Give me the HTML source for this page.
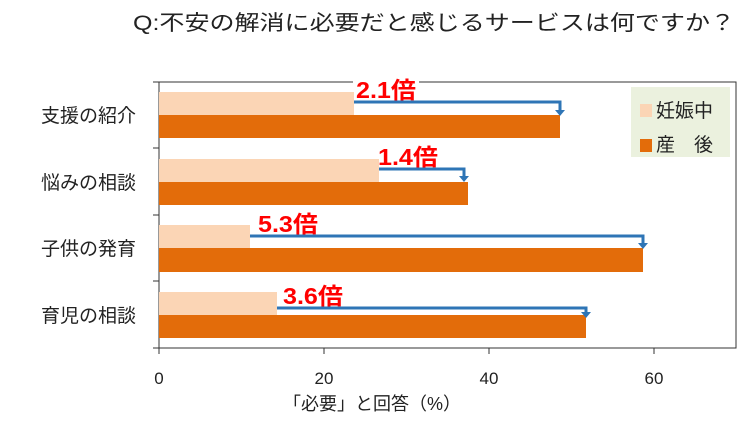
<!DOCTYPE html>
<html><head><meta charset="utf-8"><style>
body{margin:0;background:#fff}
svg text{font-family:"Liberation Sans","Noto Sans CJK JP",sans-serif}
</style></head><body>
<svg width="754" height="420" xmlns="http://www.w3.org/2000/svg">
<text x="133" y="30" font-size="21" fill="#222" textLength="602" lengthAdjust="spacingAndGlyphs">Q:不安の解消に必要だと感じるサービスは何ですか？</text>
<rect x="159" y="82" width="577" height="266" fill="none" stroke="#333" stroke-width="1"/>
<g stroke="#333" stroke-width="1">
<line x1="153" y1="82" x2="159" y2="82"/><line x1="153" y1="148" x2="159" y2="148"/><line x1="153" y1="215" x2="159" y2="215"/><line x1="153" y1="281" x2="159" y2="281"/><line x1="153" y1="348" x2="159" y2="348"/>
<line x1="159" y1="348" x2="159" y2="354"/><line x1="324" y1="348" x2="324" y2="354"/><line x1="489" y1="348" x2="489" y2="354"/><line x1="654" y1="348" x2="654" y2="354"/>
</g>
<rect x="353" y="78" width="66" height="12" fill="#fff"/>
<g fill="#fbd5b5">
<rect x="159" y="92" width="195" height="23"/><rect x="159" y="159" width="220" height="23"/><rect x="159" y="225" width="91" height="23"/><rect x="159" y="292" width="118" height="23"/>
</g>
<g fill="#e36c0a">
<rect x="159" y="115" width="401" height="23"/><rect x="159" y="182" width="309" height="23"/><rect x="159" y="248" width="484" height="24"/><rect x="159" y="315" width="427" height="23"/>
</g>
<g stroke="#2e75b6" stroke-width="3" fill="none">
<polyline points="354,102 560,102 560,111"/><polyline points="379,169 464,169 464,177"/><polyline points="250,236 643,236 643,244"/><polyline points="277,308 586,308 586,313"/>
</g>
<g fill="#2e75b6">
<polygon points="555,110 565,110 560,116"/><polygon points="459,176 469,176 464,182"/><polygon points="638,243 648,243 643,249"/><polygon points="581,312 591,312 586,318"/>
</g>
<g fill="#ff0000" font-weight="bold" font-size="23">
<text x="356" y="98" textLength="60" lengthAdjust="spacingAndGlyphs">2.1倍</text>
<text x="378" y="165" textLength="60" lengthAdjust="spacingAndGlyphs">1.4倍</text>
<text x="258" y="232" textLength="60" lengthAdjust="spacingAndGlyphs">5.3倍</text>
<text x="283" y="304" textLength="60" lengthAdjust="spacingAndGlyphs">3.6倍</text>
</g>
<rect x="631" y="87" width="99" height="70" fill="#ebf1de"/>
<rect x="640" y="104" width="12" height="13" fill="#fbd5b5"/>
<rect x="640" y="139" width="12" height="13" fill="#e36c0a"/>
<text x="656" y="117" font-size="19" fill="#222">妊娠中</text>
<text x="656" y="151" font-size="19" fill="#222">産　後</text>
<g font-size="19" fill="#222" text-anchor="end">
<text x="136" y="122">支援の紹介</text><text x="136" y="189">悩みの相談</text><text x="136" y="255">子供の発育</text><text x="136" y="322">育児の相談</text>
</g>
<g font-size="17" fill="#222" text-anchor="middle">
<text x="159" y="384">0</text><text x="324" y="384">20</text><text x="489" y="384">40</text><text x="654" y="384">60</text>
</g>
<text x="372" y="410" font-size="18" fill="#222" text-anchor="middle">「必要」と回答（%）</text>
</svg>
</body></html>
